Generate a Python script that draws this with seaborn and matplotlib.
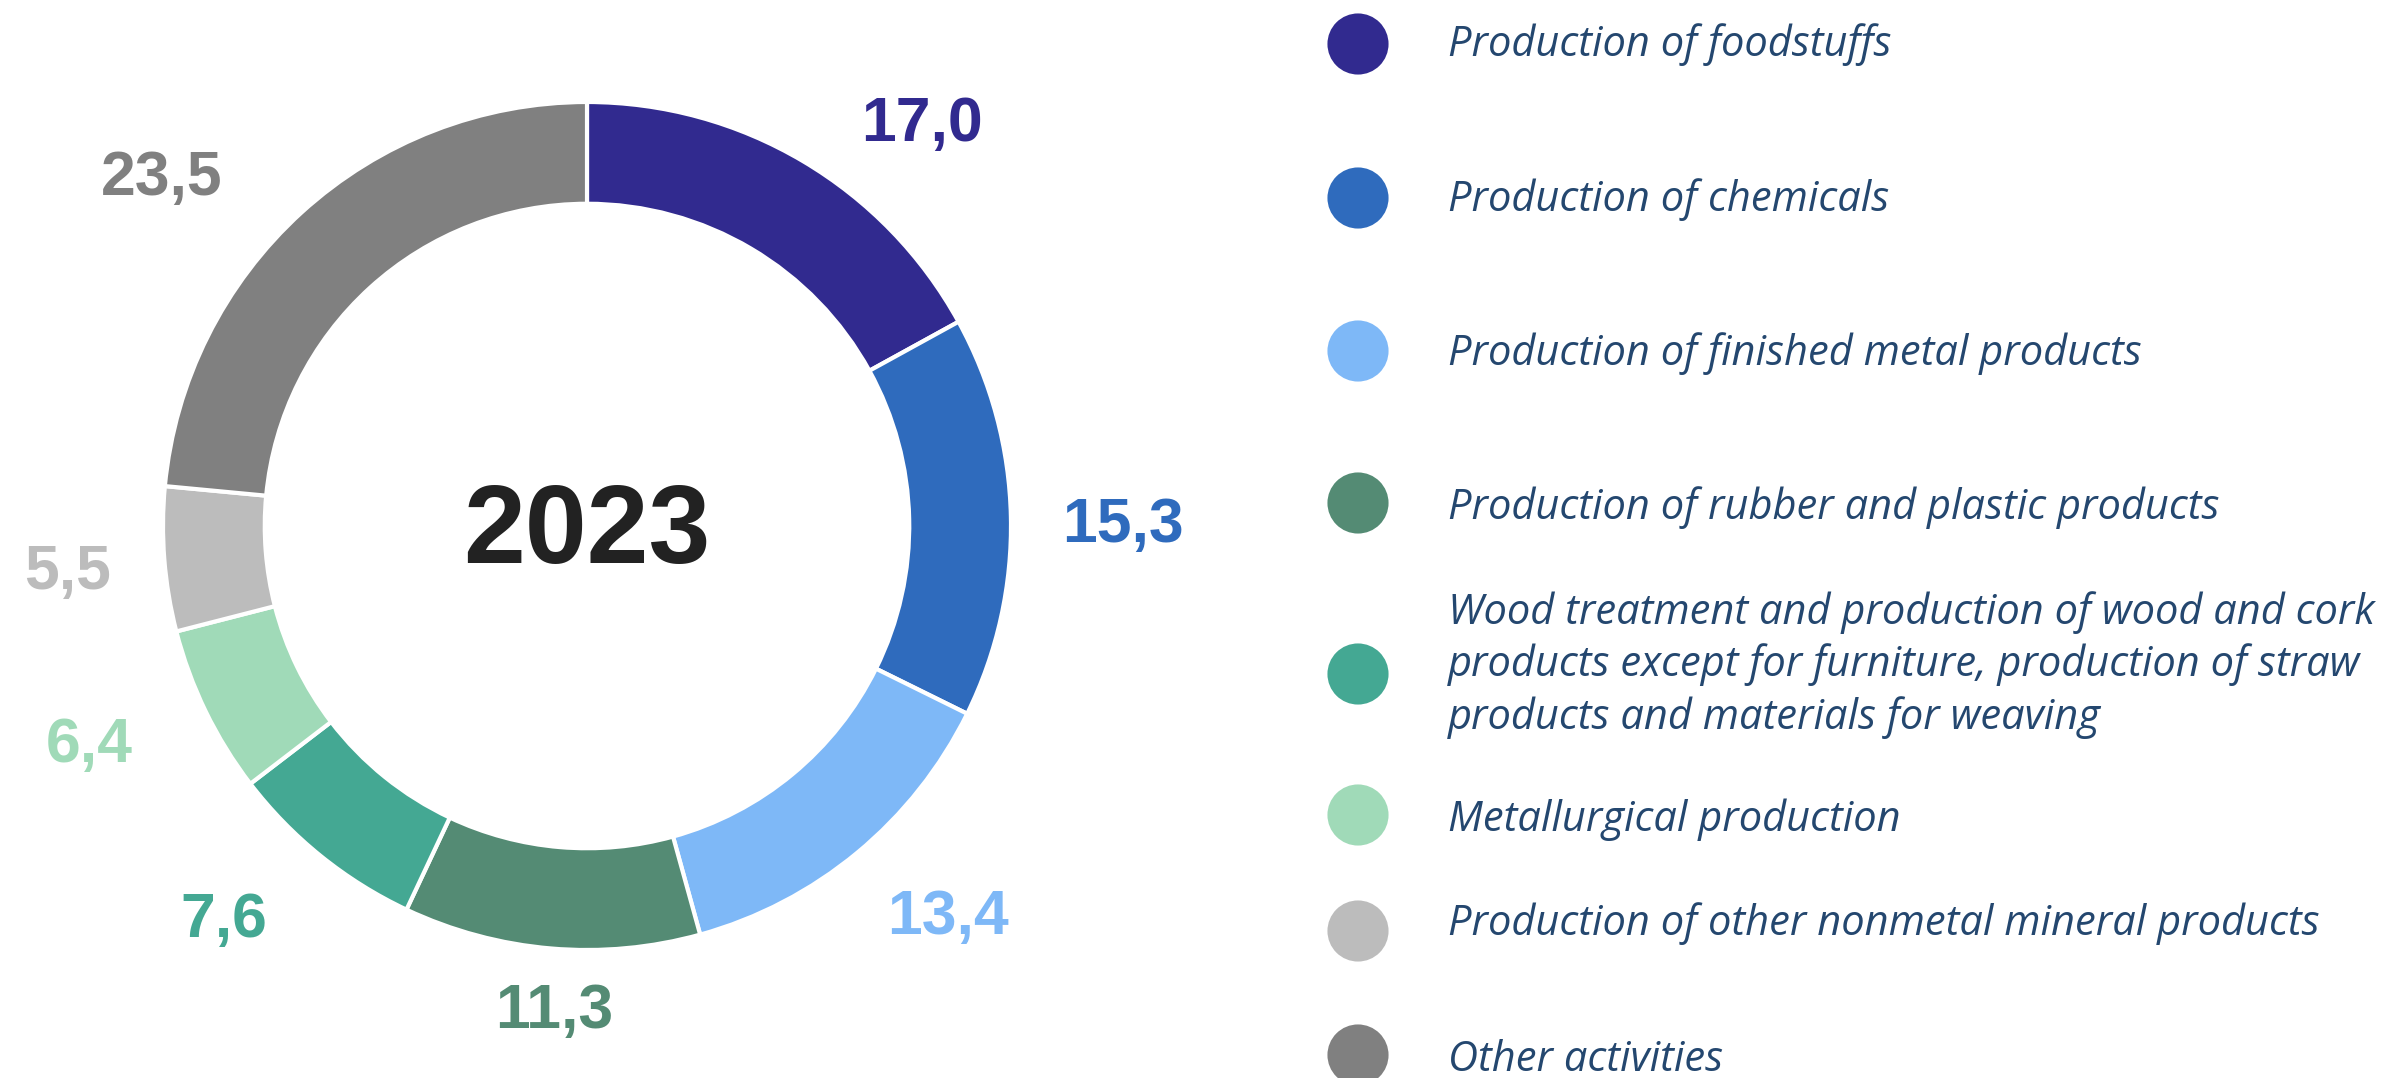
import seaborn as sns
import matplotlib.pyplot as plt
import numpy as np

# Data
categories = [
    "Production of foodstuffs",
    "Production of chemicals",
    "Production of finished metal products",
    "Production of rubber and plastic products",
    "Wood treatment and production of wood and cork\nproducts except for furniture, production of straw\nproducts and materials for weaving",
    "Metallurgical production",
    "Production of other nonmetal mineral products",
    "Other activities",
]
shares = [17.0, 15.3, 13.4, 11.3, 7.6, 6.4, 5.5, 23.5]
share_labels = ["17,0", "15,3", "13,4", "11,3", "7,6", "6,4", "5,5", "23,5"]
colors = ["#312A8F", "#2F6BBD", "#7EB8F7", "#548B74",
          "#44A893", "#A0DAB8", "#BCBCBC", "#808080"]
center_label = "2023"

# label placement tweaks (angle nudge in degrees, radius as fraction of ring)
label_nudge = [-9, -0.8, 3.4, 1, -4, -2.5, 0.2, 8.2]
label_radius = [1.24, 1.265, 1.25, 1.14, 1.26, 1.28, 1.23, 1.30]

sns.set_theme(style="white")
plt.rcParams['font.family'] = ['Liberation Sans', 'DejaVu Sans']

W, H = 2390, 1078
fig = plt.figure(figsize=(W / 100, H / 100), dpi=100)

# Donut axes: centre at (587, 526) px, outer radius 424 px
cx, cy, R = 587, 526, 424
k = 1.4
size = 2 * R * k
ax = fig.add_axes([(cx - size / 2) / W, (H - cy - size / 2) / H, size / W, size / H])
wedges, _ = ax.pie(shares, colors=colors, startangle=90, counterclock=False,
                   radius=1.0,
                   wedgeprops=dict(width=0.24, edgecolor="white", linewidth=3))
ax.set_xlim(-k, k)
ax.set_ylim(-k, k)
ax.axis("off")

# Value labels outside the ring
start = 90.0
for val, lab, col, nd, r in zip(shares, share_labels, colors, label_nudge, label_radius):
    mid = np.deg2rad(start - val * 3.6 / 2 + nd)
    start -= val * 3.6
    ax.text(r * np.cos(mid), r * np.sin(mid) - 0.008, lab, color=col,
            fontsize=45, fontweight="bold", ha="center", va="center")

ax.text(0, -0.02, center_label, color="#222222", fontsize=80, fontweight="bold",
        ha="center", va="center")

# Legend drawn in pixel coordinates
lax = fig.add_axes([0, 0, 1, 1])
lax.set_xlim(0, W)
lax.set_ylim(H, 0)
lax.axis("off")
marker_y = [44, 198, 351, 503, 674, 815, 931, 1055]
text_y = [45, 200, 354, 508, 665, 820, 924, 1060]
lax.scatter([1358] * len(colors), marker_y, s=1936, c=colors, edgecolors="none")
for name, ty in zip(categories, text_y):
    lax.text(1448, ty, name, color="#24476F", fontsize=30, style="italic",
             family=["Open Sans", "DejaVu Sans"], ha="left", va="center",
             linespacing=1.3)

fig.savefig("out.png", dpi=100)
